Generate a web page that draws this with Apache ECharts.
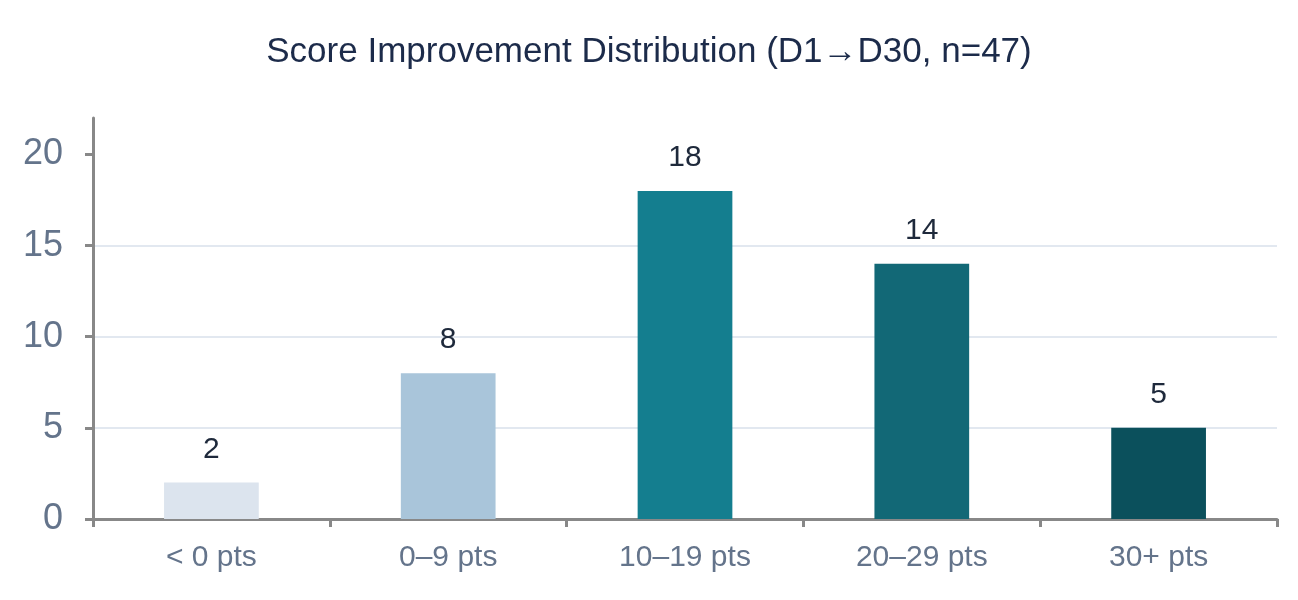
<!DOCTYPE html>
<html>
<head>
<meta charset="utf-8">
<script src="https://cdn.jsdelivr.net/npm/echarts@6/dist/echarts.min.js"></script>
<style>
html,body{margin:0;padding:0;background:#fff;}
#chart{width:1298px;height:600px;}
</style>
</head>
<body>
<div id="chart"></div>
<script>
const titleText = 'Score Improvement Distribution (D1\u2192D30, n=47)';
const categories = ['< 0 pts', '0\u20139 pts', '10\u201319 pts', '20\u201329 pts', '30+ pts'];
const counts = [2, 8, 18, 14, 5];
const barColors = ['#dce4ee', '#a9c5da', '#147e8f', '#126876', '#0b505c'];
const yTicks = [0, 5, 10, 15, 20];

const chart = echarts.init(document.getElementById('chart'), null, {renderer: 'canvas'});
const font = '"Liberation Sans", Arial, Helvetica, sans-serif';
chart.setOption({
  animation: false,
  title: {
    text: titleText,
    left: 'center',
    top: 30,
    textStyle: {fontFamily: font, fontSize: 35, fontWeight: 'normal', color: '#1c2b4a'}
  },
  grid: {left: 93, right: 21, top: 118, bottom: 81, containLabel: false},
  xAxis: {
    type: 'category',
    data: categories,
    axisLine: {lineStyle: {color: '#888888', width: 3}},
    axisTick: {show: true, length: 8, lineStyle: {color: '#888888', width: 3}},
    axisLabel: {fontFamily: font, fontSize: 30, color: '#64748b', margin: 24}
  },
  yAxis: {
    type: 'value',
    min: 0,
    max: 22,
    interval: 5,
    axisLine: {show: true, lineStyle: {color: '#888888', width: 3}},
    axisTick: {show: true, length: 8, customValues: yTicks, lineStyle: {color: '#888888', width: 3}},
    axisLabel: {fontFamily: font, fontSize: 36, color: '#64748b', margin: 30, customValues: yTicks},
    splitLine: {show: true, showMaxLine: false, lineStyle: {color: '#e2e8f0', width: 2}}
  },
  series: [{
    type: 'bar',
    data: counts.map((v, i) => ({value: v, itemStyle: {color: barColors[i]}})),
    barWidth: '40%',
    label: {show: true, position: 'top', distance: 18, fontFamily: font, fontSize: 30, color: '#1e293b'}
  }]
});
</script>
</body>
</html>
